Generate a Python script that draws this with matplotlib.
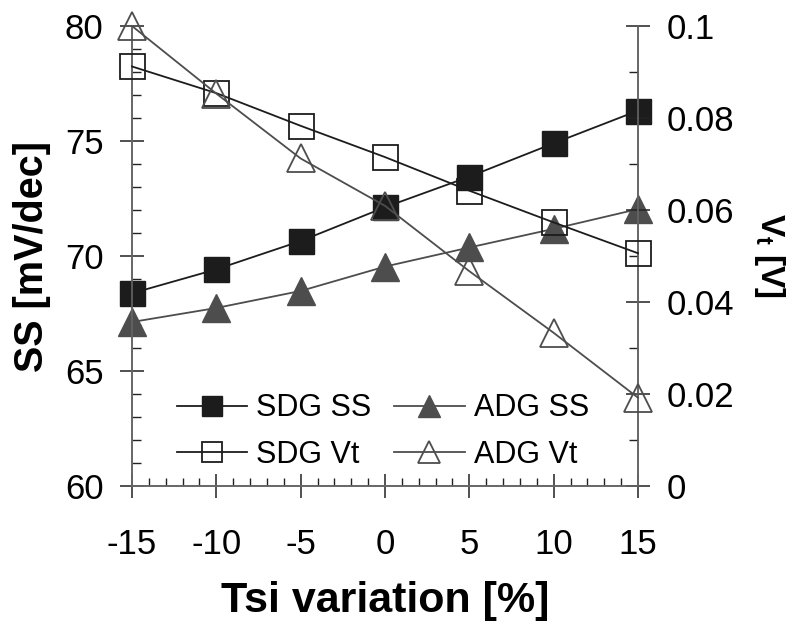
import matplotlib
matplotlib.use("Agg")
import matplotlib.pyplot as plt
from matplotlib.ticker import MultipleLocator

plt.rcParams['font.family'] = ['Liberation Sans', 'DejaVu Sans']
plt.rcParams['mathtext.fontset'] = 'custom'
plt.rcParams['mathtext.rm'] = 'Liberation Sans'
plt.rcParams['mathtext.bf'] = 'Liberation Sans:bold'

tsi = [-15, -10, -5, 0, 5, 10, 15]
sdg_ss = [68.38, 69.42, 70.65, 72.12, 73.45, 74.90, 76.32]
adg_ss = [67.13, 67.74, 68.48, 69.54, 70.37, 71.18, 72.04]
sdg_vt = [0.0912, 0.0854, 0.0783, 0.0715, 0.0642, 0.0573, 0.0506]
adg_vt = [0.1000, 0.0853, 0.0712, 0.0609, 0.0467, 0.0333, 0.0192]
x_ticks = [-15, -10, -5, 0, 5, 10, 15]
ss_ticks = [60, 65, 70, 75, 80]
vt_ticks = [0, 0.02, 0.04, 0.06, 0.08, 0.1]
vt_ticklabels = ['0', '0.02', '0.04', '0.06', '0.08', '0.1']

W, H = 805, 627
fig = plt.figure(figsize=(W / 100, H / 100), dpi=100)
ax = fig.add_axes([132 / W, 1 - 486 / H, (638 - 132) / W, (486 - 26) / H])
ax2 = ax.twinx()

black = '#1c1c1c'
gray = '#4d4d4d'
ms_sq = 18
ms_tr = 20

l1, = ax.plot(tsi, sdg_ss, color=black, lw=1.3, marker='s', ms=ms_sq,
              mfc=black, mec=black, mew=1, clip_on=False, zorder=3, label='SDG SS')
l2, = ax.plot(tsi, adg_ss, color=gray, lw=1.3, marker='^', ms=ms_tr,
              mfc=gray, mec=gray, mew=1, clip_on=False, zorder=3, label='ADG SS')
l3, = ax2.plot(tsi, sdg_vt, color=black, lw=1.3, marker='s', ms=ms_sq,
               mfc='none', mec=black, mew=1.3, clip_on=False, zorder=3, label='SDG Vt')
l4, = ax2.plot(tsi, adg_vt, color=gray, lw=1.3, marker='^', ms=ms_tr,
               mfc='none', mec=gray, mew=1.3, clip_on=False, zorder=3, label='ADG Vt')

ax.set_xlim(-15, 15)
ax.set_ylim(60, 80)
ax2.set_ylim(0, 0.1)

ax.set_xticks(x_ticks)
ax.set_xticklabels([str(v) for v in x_ticks])
ax.set_yticks(ss_ticks)
ax.set_yticklabels([str(v) for v in ss_ticks])
ax2.set_yticks(vt_ticks)
ax2.set_yticklabels(vt_ticklabels)
ax.xaxis.set_minor_locator(MultipleLocator(1))
ax.yaxis.set_minor_locator(MultipleLocator(1))
ax2.yaxis.set_minor_locator(MultipleLocator(0.01))

spine_c = '#666666'
for a in (ax, ax2):
    for s in a.spines.values():
        s.set_color(spine_c)
        s.set_linewidth(1.2)
    a.spines['top'].set_visible(False)
    a.patch.set_visible(False)

fs_tick = 25
ax.tick_params(axis='x', which='major', direction='inout', length=17, width=1.1,
               color='#222222', labelsize=fs_tick, pad=22)
ax.tick_params(axis='x', which='minor', direction='in', length=6, width=1,
               color='#222222')
ax.tick_params(axis='y', which='major', direction='inout', length=17, width=1.1,
               color='#222222', labelsize=fs_tick, pad=12)
ax.tick_params(axis='y', which='minor', direction='in', length=6.5, width=1,
               color='#222222')
ax2.tick_params(axis='y', which='major', direction='inout', length=17, width=1.1,
                color='#222222', labelsize=fs_tick, pad=12)
ax2.tick_params(axis='y', which='minor', direction='in', length=6.5, width=1,
                color='#222222')

ax.set_xlabel('Tsi variation [%]', fontsize=31, fontweight='bold', labelpad=14)
ax.set_ylabel('SS [mV/dec]', fontsize=28.5, fontweight='bold', labelpad=10)
ax2.set_ylabel(r'V$_\mathbf{t}$ [V]', fontsize=24, fontweight='bold',
               rotation=270, labelpad=38)

leg = ax.legend(handles=[l1, l3, l2, l4], ncol=2, frameon=False,
                fontsize=22, markerscale=0.78, handlelength=2.3,
                handletextpad=0.3, columnspacing=0.75, labelspacing=0.55,
                loc='lower left', bbox_to_anchor=(0.034, -0.025))
leg.set_zorder(5)

fig.savefig('out.png', dpi=100)
